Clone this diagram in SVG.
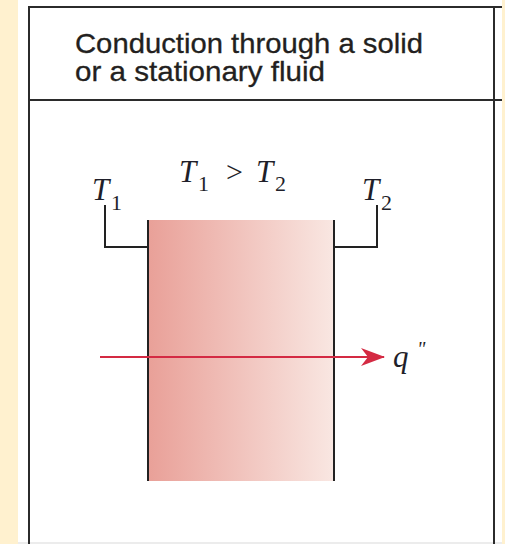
<svg xmlns="http://www.w3.org/2000/svg" width="505" height="544" viewBox="0 0 505 544">
  <style>
    .frame { stroke: #2b2b2b; stroke-width: 2; fill: none; }
    .title { font-family: "Liberation Sans", Arial, sans-serif; font-size: 28px; fill: #231f20; stroke: #231f20; stroke-width: 0.3; }
    .math { font-family: "Liberation Serif", "Times New Roman", serif; font-size: 31px; fill: #1f1f2a; font-style: italic; }
    .sub { font-family: "Liberation Serif", "Times New Roman", serif; font-size: 22px; fill: #1f1f2a; }
    .rel { font-family: "Liberation Serif", "Times New Roman", serif; font-size: 30px; fill: #1f1f2a; }
    .prime { font-family: "Liberation Serif", "Times New Roman", serif; font-size: 20px; fill: #1f1f2a; font-style: italic; }
    .lead { stroke: #222; stroke-width: 2; fill: none; }
    .flux { stroke: #d42a43; stroke-width: 2; fill: none; }
  </style>
  <defs>
    <linearGradient id="slabGrad" x1="0" y1="0" x2="1" y2="0">
      <stop offset="0" stop-color="#e9a098"/>
      <stop offset="1" stop-color="#f9e7e2"/>
    </linearGradient>
    <marker id="arrowHead" viewBox="0 0 24 18" refX="23" refY="9" markerWidth="24" markerHeight="18" markerUnits="userSpaceOnUse" orient="auto">
      <path d="M0,0 L24,9 L0,18 L7,9 Z" fill="#d42a43"/>
    </marker>
  </defs>

  <rect x="0" y="0" width="505" height="544" fill="#fff1cf"/>
  <rect x="18" y="0" width="484" height="544" fill="#ffffff"/>
  <rect x="18" y="542" width="484" height="2" fill="#ececec"/>

  <g id="table-frame">
    <line class="frame" x1="29" y1="7" x2="29" y2="544"/>
    <line class="frame" x1="28" y1="7" x2="502" y2="7"/>
    <line class="frame" x1="494" y1="7" x2="494" y2="544"/>
    <line class="frame" x1="28" y1="100" x2="502" y2="100"/>
  </g>

  <g id="header">
    <text class="title" x="75" y="53" textLength="348" lengthAdjust="spacingAndGlyphs">Conduction through a solid</text>
    <text class="title" x="75" y="81" textLength="250" lengthAdjust="spacingAndGlyphs">or a stationary fluid</text>
  </g>

  <g id="slab">
    <rect x="148" y="220" width="186" height="261" fill="url(#slabGrad)"/>
    <line class="lead" x1="148" y1="220" x2="148" y2="481"/>
    <line class="lead" x1="334" y1="220" x2="334" y2="481"/>
  </g>

  <g id="label-T1">
    <text class="math" x="92" y="200">T</text>
    <text class="sub" x="111" y="210">1</text>
  </g>
  <g id="label-relation">
    <text class="math" x="179" y="182">T</text>
    <text class="sub" x="198" y="191">1</text>
    <text class="rel" x="226" y="182">&gt;</text>
    <text class="math" x="256" y="182">T</text>
    <text class="sub" x="275" y="191">2</text>
  </g>
  <g id="label-T2">
    <text class="math" x="362" y="200">T</text>
    <text class="sub" x="381" y="210">2</text>
  </g>
  <g id="label-q">
    <text class="math" x="393" y="367">q</text>
    <text class="prime" x="417" y="356">"</text>
  </g>

  <g id="connectors">
    <polyline class="lead" points="105,205 105,247 148,247"/>
    <polyline class="lead" points="334,247 377,247 377,205"/>
    <line class="flux" x1="100" y1="357" x2="384" y2="357" marker-end="url(#arrowHead)"/>
  </g>
</svg>
